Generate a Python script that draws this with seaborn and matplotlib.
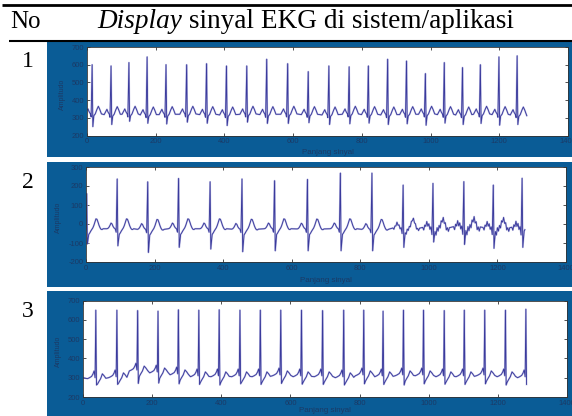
import numpy as np
import pandas as pd
import matplotlib
matplotlib.use("Agg")
import matplotlib.pyplot as plt
import seaborn as sns
from matplotlib.patches import Rectangle
from matplotlib.lines import Line2D

plt.rcParams['axes.unicode_minus'] = False

W, H = 572, 416

# ---------------- text ----------------
header_no = "No"
header_italic = "Display"
header_rest = " sinyal EKG di sistem/aplikasi"
row_numbers = ["1", "2", "3"]
x_label = "Panjang sinyal"
y_label = "Amplitudo"
x_ticks = [0, 200, 400, 600, 800, 1000, 1200, 1400]
y_ticks_1 = [200, 300, 400, 500, 600, 700]
y_ticks_2 = [-200, -100, 0, 100, 200, 300]
y_ticks_3 = [200, 300, 400, 500, 600, 700]

# ---------------- panel 1 data ----------------
r_pos_1 = [15, 70, 122, 175, 230, 290, 348, 406, 465, 523, 584, 644,
           704, 763, 819, 875, 930, 985, 1040, 1093, 1145, 1199, 1252]
r_amp_1 = [600, 593, 612, 644, 600, 600, 606, 593, 593, 631, 606, 561,
           593, 588, 593, 631, 621, 550, 612, 584, 600, 644, 650]
s_amp_1 = [250, 262, 280, 269, 265, 275, 269, 256, 275, 268, 268, 272,
           262, 266, 270, 262, 266, 258, 270, 262, 268, 258, 262]
base_1 = [320, 318, 320, 316, 318, 320, 318, 316, 320, 318, 320, 318,
          316, 320, 318, 316, 318, 320, 318, 316, 320, 318, 316]
pre_off_1 = [-20, -15, -12, -9, -5, -3]
pre_val_1 = [0, 18, 30, 15, 2, -15]
post_off_1 = [5, 9, 14, 18, 22, 27]
post_val_1 = [-8, 2, 28, 45, 28, 2]
start_1 = 345
end_1 = 312
length_1 = 1280

# ---------------- panel 2 data ----------------
r_pos_2 = [2, 91, 180, 270, 362, 455, 550, 646, 742, 834, 925, 1012, 1102, 1188, 1272]
r_amp_2 = [160, 237, 222, 240, 222, 237, 228, 235, 268, 268, 205, 214, 223, 205, 241]
s_amp_2 = [-105, -115, -150, -123, -132, -146, -141, -141, -141, -141, -123, -95, -108, -128, -123]
base_2 = [-25, -25, -28, -25, -25, -27, -25, -26, -25, -28, -25, -25, -22, -25, -25]
noise_2 = [0, 0, 0, 0, 0, 0, 0, 0, 0, 0, 0.4, 0.7, 0.8, 0.7, 0.8]
pre_off_2 = [-30, -27, -24, -21, -18, -15, -12, -9, -6, -3]
pre_val_2 = [0, 2, 8, 18, 30, 25, 12, 4, 0, -18]
pre_jit_2 = [10, -12, 16, -8, 12, -16, 20, -10, 14, -18]
post_off_2 = [6, 9, 12, 15, 18, 21, 24, 27, 30, 33, 36, 39, 42, 45, 48]
post_val_2 = [-30, -22, -12, -4, 5, 18, 35, 52, 50, 35, 18, 5, -3, -4, 0]
post_jit_2 = [22, -16, 25, -12, 18, -20, 10, -24, 14, -10, 20, -16, 12, -14, 8]
start_2 = -30
end_2 = -30
length_2 = 1280

# ---------------- panel 3 data ----------------
r_pos_3 = [37, 98, 158, 217, 276, 335, 394, 454, 513, 572, 632,
           693, 754, 812, 868, 927, 985, 1045, 1103, 1162, 1222, 1281]
r_amp_3 = [650, 650, 648, 645, 652, 650, 652, 650, 650, 650, 650,
           648, 650, 650, 645, 650, 650, 648, 650, 650, 650, 655]
s_amp_3 = [262, 265, 270, 272, 268, 265, 262, 268, 265, 270, 266,
           265, 262, 268, 265, 262, 268, 266, 265, 268, 262, 265]
base_3 = [295, 300, 335, 325, 315, 305, 305, 305, 305, 310, 305,
          305, 300, 310, 305, 310, 310, 305, 305, 310, 305, 300]
pre_off_3 = [-24, -18, -12, -8, -5, -2]
pre_val_3 = [0, 5, 12, 25, 40, 5]
post_off_3 = [5, 9, 14, 19, 24, 29]
post_val_3 = [-28, -15, 0, 25, 15, 2]
start_3 = 300
end_3 = 300
length_3 = 1283


def build(r_pos, r_amp, s_amp, base, pre_off, pre_val, post_off, post_val,
          start, end, length, noise=None, pre_jit=None, post_jit=None):
    xs, ys = [0], [start]
    for i, p in enumerate(r_pos):
        k = 0 if noise is None else noise[i]
        for j, (o, v) in enumerate(zip(pre_off, pre_val)):
            jv = 0 if pre_jit is None else pre_jit[j]
            if p + o > xs[-1]:
                xs.append(p + o); ys.append(base[i] + v + k * jv)
        xs.append(p); ys.append(r_amp[i])
        xs.append(p + 2); ys.append(s_amp[i])
        for j, (o, v) in enumerate(zip(post_off, post_val)):
            jv = 0 if post_jit is None else post_jit[j]
            if p + o < length:
                xs.append(p + o); ys.append(base[i] + v + k * jv)
    if xs[-1] < length:
        xs.append(length); ys.append(end)
    return pd.DataFrame({"x": xs, "y": ys})


df1 = build(r_pos_1, r_amp_1, s_amp_1, base_1, pre_off_1, pre_val_1,
            post_off_1, post_val_1, start_1, end_1, length_1)
df2 = build(r_pos_2, r_amp_2, s_amp_2, base_2, pre_off_2, pre_val_2,
            post_off_2, post_val_2, start_2, end_2, length_2,
            noise_2, pre_jit_2, post_jit_2)
df3 = build(r_pos_3, r_amp_3, s_amp_3, base_3, pre_off_3, pre_val_3,
            post_off_3, post_val_3, start_3, end_3, length_3)

# ---------------- figure ----------------
fig = plt.figure(figsize=(W / 100, H / 100), dpi=100)
fig.patch.set_facecolor("white")

BLUE = "#0a5c96"
LABEL_C = "#1b3a66"
LINE_C = "#3a3a9c"
HALO_C = "#aaaadc"


def fx(px):
    return px / W


def fy(py):
    return 1 - py / H


def rect(x0, y0, x1, y1):
    r = Rectangle((fx(x0), fy(y1)), fx(x1) - fx(x0), fy(y0) - fy(y1),
                  transform=fig.transFigure, facecolor=BLUE, edgecolor="none", zorder=-5)
    fig.add_artist(r)


def hline(x0, x1, y, lw):
    fig.add_artist(Line2D([fx(x0), fx(x1)], [fy(y), fy(y)], transform=fig.transFigure,
                          color="black", lw=lw, solid_capstyle="butt"))


hline(2, 572, 4.5, 2.0)
hline(9, 572, 41, 1.5)

serif = "Liberation Serif"
fig.text(fx(10), fy(28), header_no, family=serif, fontsize=18, va="baseline", ha="left")
t = fig.text(fx(97), fy(28), header_italic, family=serif, fontsize=19.6, style="italic",
             va="baseline", ha="left")
fig.canvas.draw()
bb = t.get_window_extent()
fig.text(bb.x1 / W, fy(28), header_rest, family=serif, fontsize=19.6, va="baseline", ha="left")

rows = [
    dict(blue=(47, 42, 572, 157), ax=(87, 47, 568, 135.5), df=df1, yt=y_ticks_1,
         num_y=67, xl_y=153, yl_x=62),
    dict(blue=(47, 162, 572, 287), ax=(86, 167, 566, 262), df=df2, yt=y_ticks_2,
         num_y=188, xl_y=280, yl_x=58),
    dict(blue=(47, 291, 572, 417), ax=(83, 300.5, 567, 397), df=df3, yt=y_ticks_3,
         num_y=317, xl_y=410, yl_x=58),
]

for i, r in enumerate(rows):
    rect(*r["blue"])
    x0, y0, x1, y1 = r["ax"]
    ax = fig.add_axes([fx(x0), fy(y1), fx(x1) - fx(x0), fy(y0) - fy(y1)])
    ax.set_facecolor("white")
    sns.lineplot(data=r["df"], x="x", y="y", ax=ax, estimator=None, sort=False,
                 color=HALO_C, linewidth=1.3, alpha=0.7)
    sns.lineplot(data=r["df"], x="x", y="y", ax=ax, estimator=None, sort=False,
                 color=LINE_C, linewidth=0.65)
    ax.set_xlim(0, 1400)
    ax.set_ylim(r["yt"][0], r["yt"][-1])
    ax.set_xticks(x_ticks)
    ax.set_yticks(r["yt"])
    ax.set_xticklabels([str(v) for v in x_ticks])
    ax.set_yticklabels([str(v) for v in r["yt"]])
    ax.tick_params(direction="in", length=2.5, width=0.6, color="#333333",
                   labelsize=5.5, labelcolor=LABEL_C, pad=2,
                   top=True, right=True)
    for lab in ax.get_xticklabels() + ax.get_yticklabels():
        lab.set_family("Liberation Sans")
    for s in ax.spines.values():
        s.set_color("#333333")
        s.set_linewidth(0.6)
    ax.set_xlabel("")
    ax.set_ylabel("")
    fig.text(fx((x0 + x1) / 2), fy(r["xl_y"]), x_label, family="Liberation Sans",
             fontsize=5.8, color=LABEL_C, ha="center", va="center")
    fig.text(fx(r["yl_x"]), fy((y0 + y1) / 2 + 3), y_label, family="Liberation Sans",
             fontsize=5, color=LABEL_C, ha="center", va="center", rotation=90)
    fig.text(fx(28), fy(r["num_y"]), row_numbers[i], family=serif, fontsize=17,
             ha="center", va="baseline")

fig.savefig("out.png", dpi=100, facecolor="white")
